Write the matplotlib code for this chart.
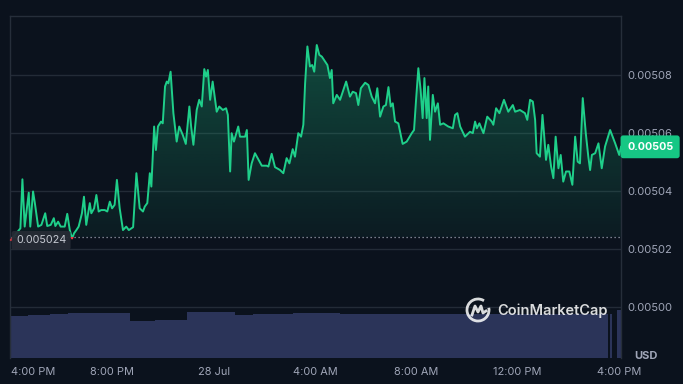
import numpy as np
import matplotlib
matplotlib.use("Agg")
import matplotlib.pyplot as plt
from matplotlib.colors import to_rgb
from matplotlib.patches import Polygon, Rectangle, Arc
from matplotlib.lines import Line2D
from matplotlib.transforms import offset_copy

# price series, hours after 4:00 PM (27 Jul)
hours = [
    0.0, 0.37, 0.45, 0.54, 0.70, 0.76, 0.87, 0.94, 1.07, 1.20,
    1.35, 1.43, 1.57, 1.69, 1.75, 1.86, 1.96, 2.12, 2.22, 2.32,
    2.41, 2.49, 2.58, 2.67, 2.80, 2.88, 2.97, 3.11, 3.17, 3.28,
    3.37, 3.46, 3.56, 3.70, 3.80, 3.90, 3.99, 4.09, 4.18, 4.29,
    4.42, 4.55, 4.65, 4.82, 4.95, 5.08, 5.21, 5.28, 5.38, 5.48,
    5.54, 5.65, 5.72, 5.80, 5.92, 5.99, 6.08, 6.15, 6.21, 6.30,
    6.41, 6.54, 6.64, 6.78, 6.90, 7.04, 7.11, 7.20, 7.33, 7.43,
    7.53, 7.63, 7.70, 7.77, 7.86, 7.96, 8.12, 8.22, 8.36, 8.49,
    8.56, 8.65, 8.71, 8.80, 8.97, 9.04, 9.24, 9.31, 9.38, 9.50,
    9.63, 9.90, 10.09, 10.16, 10.29, 10.42, 10.62, 10.75, 10.88, 10.99,
    11.12, 11.21, 11.34, 11.45, 11.54, 11.61, 11.70, 11.80, 11.89, 11.97,
    12.07, 12.17, 12.27, 12.40, 12.49, 12.59, 12.66, 12.72, 12.86, 12.99,
    13.23, 13.38, 13.49, 13.62, 13.71, 13.81, 13.98, 14.11, 14.24, 14.37,
    14.46, 14.57, 14.70, 14.80, 14.90, 14.99, 15.07, 15.16, 15.29, 15.46,
    15.62, 15.82, 15.91, 15.99, 16.08, 16.17, 16.25, 16.32, 16.41, 16.47,
    16.54, 16.65, 16.74, 16.85, 16.94, 17.07, 17.26, 17.44, 17.53, 17.62,
    17.73, 17.92, 18.12, 18.23, 18.32, 18.39, 18.49, 18.54, 18.65, 18.80,
    18.98, 19.04, 19.15, 19.28, 19.46, 19.63, 19.81, 19.90, 20.09, 20.29,
    20.38, 20.49, 20.60, 20.69, 20.75, 20.88, 20.98, 21.04, 21.12, 21.21,
    21.32, 21.41, 21.50, 21.61, 21.70, 21.80, 21.91, 22.04, 22.16, 22.27,
    22.37, 22.46, 22.57, 22.69, 22.79, 22.86, 22.93, 23.06, 23.19, 23.32,
    23.45, 23.65, 23.85, 24.01, 24.08,
]
prices = [
    0.0050231, 0.0050271, 0.0050440, 0.0050277, 0.0050394, 0.0050277, 0.0050398, 0.0050359, 0.0050277, 0.0050283,
    0.0050323, 0.0050279, 0.0050283, 0.0050306, 0.0050279, 0.0050294, 0.0050277, 0.0050277, 0.0050321, 0.0050265,
    0.0050236, 0.0050254, 0.0050265, 0.0050277, 0.0050323, 0.0050380, 0.0050283, 0.0050358, 0.0050323, 0.0050340,
    0.0050386, 0.0050329, 0.0050334, 0.0050334, 0.0050329, 0.0050363, 0.0050340, 0.0050352, 0.0050438, 0.0050340,
    0.0050265, 0.0050277, 0.0050265, 0.0050275, 0.0050461, 0.0050340, 0.0050329, 0.0050346, 0.0050358, 0.0050461,
    0.0050415, 0.0050622, 0.0050541, 0.0050622, 0.0050639, 0.0050633, 0.0050760, 0.0050777, 0.0050771, 0.0050811,
    0.0050668, 0.0050570, 0.0050622, 0.0050593, 0.0050562, 0.0050691, 0.0050622, 0.0050559, 0.0050679, 0.0050714,
    0.0050691, 0.0050820, 0.0050794, 0.0050817, 0.0050714, 0.0050777, 0.0050673, 0.0050691, 0.0050679, 0.0050685,
    0.0050662, 0.0050467, 0.0050599, 0.0050570, 0.0050622, 0.0050587, 0.0050587, 0.0050610, 0.0050438, 0.0050495,
    0.0050530, 0.0050487, 0.0050487, 0.0050484, 0.0050528, 0.0050482, 0.0050472, 0.0050461, 0.0050513, 0.0050495,
    0.0050544, 0.0050518, 0.0050599, 0.0050587, 0.0050628, 0.0050771, 0.0050898, 0.0050829, 0.0050834, 0.0050811,
    0.0050903, 0.0050869, 0.0050863, 0.0050846, 0.0050834, 0.0050789, 0.0050817, 0.0050702, 0.0050731, 0.0050714,
    0.0050777, 0.0050725, 0.0050742, 0.0050737, 0.0050696, 0.0050754, 0.0050773, 0.0050765, 0.0050725, 0.0050702,
    0.0050754, 0.0050656, 0.0050691, 0.0050696, 0.0050758, 0.0050691, 0.0050702, 0.0050639, 0.0050633, 0.0050562,
    0.0050570, 0.0050599, 0.0050610, 0.0050714, 0.0050823, 0.0050748, 0.0050651, 0.0050789, 0.0050651, 0.0050760,
    0.0050576, 0.0050731, 0.0050673, 0.0050702, 0.0050628, 0.0050633, 0.0050622, 0.0050616, 0.0050662, 0.0050668,
    0.0050622, 0.0050587, 0.0050604, 0.0050599, 0.0050639, 0.0050616, 0.0050633, 0.0050622, 0.0050599, 0.0050656,
    0.0050639, 0.0050628, 0.0050685, 0.0050668, 0.0050714, 0.0050673, 0.0050696, 0.0050673, 0.0050679, 0.0050668,
    0.0050645, 0.0050714, 0.0050708, 0.0050645, 0.0050530, 0.0050518, 0.0050662, 0.0050599, 0.0050507, 0.0050559,
    0.0050484, 0.0050444, 0.0050587, 0.0050478, 0.0050524, 0.0050432, 0.0050467, 0.0050467, 0.0050421, 0.0050587,
    0.0050501, 0.0050495, 0.0050720, 0.0050599, 0.0050518, 0.0050472, 0.0050524, 0.0050530, 0.0050564, 0.0050478,
    0.0050553, 0.0050610, 0.0050564, 0.0050524, 0.0050552,
]
base_price = 0.005024
base_label = "0.005024"
last_label = "0.00505"

# volume, constant over each span (million USD)
vol_start = [-0.04, 0.67, 1.54, 2.25, 4.70, 5.69, 6.95, 8.84, 9.55, 11.13, 12.99, 23.65, 23.93]
vol_end = [0.67, 1.54, 2.25, 4.70, 5.69, 6.95, 8.84, 9.55, 11.13, 12.99, 23.57, 23.73, 24.08]
vol_musd = [1.26, 1.29, 1.32, 1.35, 1.11, 1.14, 1.39, 1.28, 1.33, 1.37, 1.34, 1.34, 1.44]

price_ticks = [0.00500, 0.00502, 0.00504, 0.00506, 0.00508]
time_ticks = [0, 4, 8, 12, 16, 20, 24]
time_labels = ["4:00 PM", "8:00 PM", "28 Jul", "4:00 AM", "8:00 AM", "12:00 PM", "4:00 PM"]

BG = "#0b121d"
GREEN = "#1fcf8a"
RED = "#ea3943"
GRID = "#232b37"
TXT = "#a0a6b8"
VOL = "#2b3459"

plt.rcParams["font.family"] = ["Inter", "DejaVu Sans"]

W, H = 683, 384
fig = plt.figure(figsize=(W / 100, H / 100), dpi=100, facecolor=BG)
rect = [10 / W, (H - 358) / H, 611 / W, 342 / H]
x_lim = (-0.04, 24.08)

# volume underneath
axv = fig.add_axes(rect)
axv.set_facecolor(BG)
axv.bar(vol_start, vol_musd, width=np.subtract(vol_end, vol_start), align="edge",
        color=VOL, linewidth=0)
axv.set_xlim(*x_lim)
axv.set_ylim(0, 10.3)
axv.axis("off")

ax = fig.add_axes(rect)
ax.patch.set_visible(False)

t = np.array(hours)
p = np.array(prices)

# gradient fill between line and baseline
verts = np.column_stack([np.r_[t[0], t, t[-1]], np.r_[base_price, p, base_price]])
clip = Polygon(verts, closed=True, transform=ax.transData, facecolor="none", edgecolor="none")
ax.add_patch(clip)
rgba = np.zeros((200, 1, 4))
rgba[..., :3] = to_rgb(GREEN)
rgba[..., 3] = np.linspace(0.30, 0.05, 200)[:, None]
im = ax.imshow(rgba, extent=[t[0], t[-1], base_price, p.max()], origin="upper",
               aspect="auto", zorder=1, interpolation="bilinear")
im.set_clip_path(clip)

# line: green above the baseline, red below
upper = Rectangle((-5, base_price), 40, 1, transform=ax.transData)
lower = Rectangle((-5, base_price - 1), 40, 1, transform=ax.transData)
lg, = ax.plot(t, p, color=GREEN, lw=1.4, zorder=3, solid_joinstyle="round")
lg.set_clip_path(upper)
lr, = ax.plot(t, p, color=RED, lw=1.4, zorder=3, solid_joinstyle="round")
lr.set_clip_path(lower)

ax.axhline(base_price, color="#9aa0ad", lw=0.9, ls=(0, (1, 2.2)), zorder=2)

ax.set_xlim(*x_lim)
ax.set_ylim(0.0049824, 0.0051003)
ax.set_yticks(price_ticks)
ax.set_yticklabels([f"{v:.5f}" for v in price_ticks])
ax.yaxis.tick_right()
ax.grid(axis="y", color=GRID, lw=1)
ax.set_axisbelow(True)
ax.set_xticks(time_ticks, time_labels)
ax.get_xticklabels()[0].set_ha("left")
ax.tick_params(axis="y", length=0, pad=4.3, labelsize=8, labelcolor=TXT)
ax.tick_params(axis="x", length=0, pad=6.5, labelsize=7.9, labelcolor=TXT)
for side in ["top", "left", "right"]:
    ax.spines[side].set_color("#262e3a")
    ax.spines[side].set_linewidth(1)
ax.spines["bottom"].set_visible(False)

ytr = ax.get_yaxis_transform()
ax.text((627 - 10) / 611, p[-1], last_label, transform=ytr, ha="left", va="center",
        fontsize=7.7, fontweight="bold", color="white", zorder=6, clip_on=False,
        bbox=dict(boxstyle="round,pad=0.6,rounding_size=0.25", fc="#16c784", ec="none"))
ax.text((16 - 10) / 611, base_price, base_label,
        transform=offset_copy(ytr, fig=fig, y=-3, units="dots"), ha="left", va="center",
        fontsize=7.8, color="#c4c8d0", zorder=6,
        bbox=dict(boxstyle="round,pad=0.4,rounding_size=0.2", fc="#262b35", ec="none", alpha=0.95))

fig.text(646 / W, 1 - 356 / H, "USD", ha="center", va="center", fontsize=8,
         fontweight="bold", color=TXT)

# watermark
wm = dict(color="white", alpha=0.85)
fig.text(497 / W, 1 - 311 / H, "CoinMarketCap", ha="left", va="center", fontsize=10.5,
         fontweight="semibold", **wm)
cx, cy, r = 478, 310, 11
fig.add_artist(Arc((cx / W, 1 - cy / H), 2 * r / W, 2 * r / H, theta1=70, theta2=380,
                   transform=fig.transFigure, lw=2, **wm))
mx = [-6, -3, 0, 3, 5, 8]
my = [-5, 4, -2, 4, -3, -1]
fig.add_artist(Line2D([(cx + a) / W for a in mx], [1 - (cy - b) / H for b in my],
                      transform=fig.transFigure, lw=2, solid_joinstyle="round", **wm))

fig.savefig("out.png", dpi=100, facecolor=BG)
